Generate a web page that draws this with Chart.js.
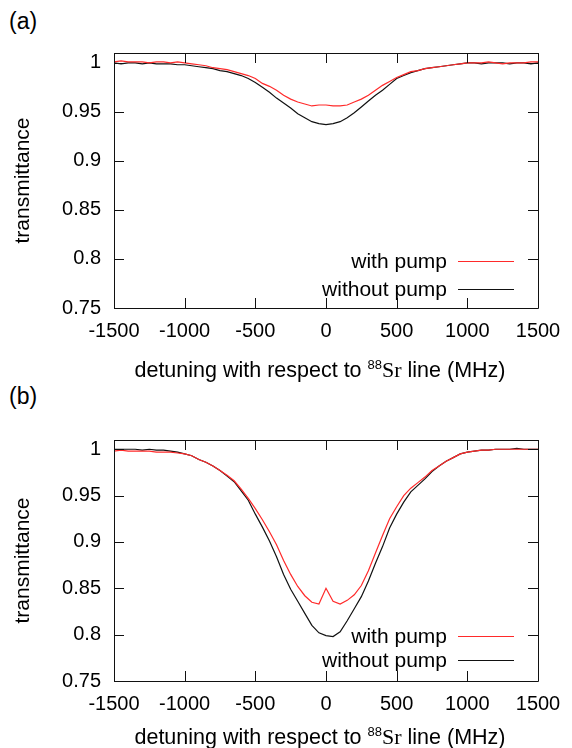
<!DOCTYPE html>
<html>
<head>
<meta charset="utf-8">
<script src="https://cdn.jsdelivr.net/npm/chart.js@4.4.0/dist/chart.umd.min.js"></script>
<style>
  body { margin: 0; background: #fff; font-family: "Liberation Sans", Arial, sans-serif; color: #000; }
  #page { position: relative; width: 572px; height: 748px; overflow: hidden; }
  .panel { position: absolute; left: 0; width: 572px; height: 374px; }
  .tag { position: absolute; left: 9px; font-size: 23px; line-height: 24px; }
  .xtitle { position: absolute; left: 0; width: 640px; text-align: center; font-size: 21.5px; line-height: 24px; white-space: nowrap; }
  .xtitle sup { font-size: 13px; vertical-align: 8px; line-height: 0; }
  .sr { font-family: "Liberation Serif", "DejaVu Serif", serif; font-size: 22px; }
</style>
</head>
<body>
<div id="page">
  <div class="tag" style="top:9px">(a)</div>
  <div class="panel" style="top:0"><canvas id="chart-a"></canvas></div>
  <div class="xtitle" style="top:358px">detuning with respect to <sup>88</sup><span class="sr">Sr</span> line (MHz)</div>

  <div class="tag" style="top:384px">(b)</div>
  <div class="panel" style="top:374px"><canvas id="chart-b"></canvas></div>
  <div class="xtitle" style="top:725px">detuning with respect to <sup>88</sup><span class="sr">Sr</span> line (MHz)</div>
</div>

<script>
// detuning grid (MHz), one point every 50 MHz
const detuning = [
  -1500, -1450, -1400, -1350, -1300, -1250, -1200, -1150, -1100, -1050,
  -1000, -950, -900, -850, -800, -750, -700, -650, -600, -550,
  -500, -450, -400, -350, -300, -250, -200, -150, -100, -50,
  0, 50, 100, 150, 200, 250, 300, 350, 400, 450,
  500, 550, 600, 650, 700, 750, 800, 850, 900, 950,
  1000, 1050, 1100, 1150, 1200, 1250, 1300, 1350, 1400, 1450, 1500
];

const xTicks = [-1500, -1000, -500, 0, 500, 1000, 1500];
const yTicks = [0.75, 0.8, 0.85, 0.9, 0.95, 1];
const seriesNames = ['with pump', 'without pump'];

// panel (a)
const pumpA = [
  1.001, 1.002, 1.001, 1.001, 1.001, 1.000, 1.001, 1.001, 1.000, 1.001,
  1.000, 0.999, 0.998, 0.997, 0.995, 0.994, 0.993, 0.991, 0.989, 0.987,
  0.984, 0.979, 0.976, 0.972, 0.967, 0.963, 0.960, 0.958, 0.956, 0.957,
  0.957, 0.956, 0.956, 0.957, 0.960, 0.963, 0.967, 0.972, 0.977, 0.981,
  0.985, 0.988, 0.991, 0.992, 0.994, 0.995, 0.996, 0.997, 0.998, 0.999,
  1.000, 1.000, 1.000, 1.001, 1.000, 0.999, 1.000, 1.000, 1.000, 1.001, 1.001
];
const noPumpA = [
  1.000, 0.999, 1.000, 1.000, 0.999, 1.000, 0.999, 0.999, 0.999, 0.998,
  0.998, 0.997, 0.996, 0.995, 0.994, 0.992, 0.991, 0.989, 0.987, 0.984,
  0.980, 0.975, 0.970, 0.964, 0.959, 0.954, 0.948, 0.944, 0.940, 0.938,
  0.937, 0.938, 0.940, 0.944, 0.949, 0.955, 0.961, 0.967, 0.972, 0.978,
  0.984, 0.987, 0.990, 0.992, 0.994, 0.995, 0.996, 0.997, 0.998, 0.999,
  1.000, 1.000, 0.999, 1.000, 1.000, 1.000, 0.999, 1.000, 1.000, 0.999, 1.000
];

// panel (b)
const pumpB = [
  0.998, 0.999, 0.998, 0.998, 0.998, 0.998, 0.997, 0.997, 0.997, 0.996,
  0.995, 0.993, 0.989, 0.986, 0.982, 0.977, 0.972, 0.966, 0.957, 0.947,
  0.936, 0.924, 0.911, 0.897, 0.880, 0.865, 0.852, 0.842, 0.835, 0.833,
  0.850, 0.836, 0.833, 0.837, 0.843, 0.853, 0.869, 0.888, 0.907, 0.925,
  0.938, 0.950, 0.958, 0.964, 0.970, 0.977, 0.982, 0.987, 0.991, 0.995,
  0.997, 0.998, 0.999, 0.999, 1.000, 1.000, 1.000, 1.000, 1.000, 1.000, 1.000
];
const noPumpB = [
  1.000, 1.000, 1.000, 1.000, 0.999, 1.000, 0.999, 0.999, 0.998, 0.997,
  0.995, 0.993, 0.989, 0.986, 0.982, 0.977, 0.971, 0.965, 0.955, 0.945,
  0.930, 0.916, 0.901, 0.884, 0.865, 0.849, 0.836, 0.823, 0.810, 0.802,
  0.799, 0.798, 0.803, 0.815, 0.828, 0.841, 0.858, 0.877, 0.895, 0.915,
  0.930, 0.943, 0.954, 0.961, 0.968, 0.976, 0.982, 0.987, 0.991, 0.995,
  0.997, 0.998, 0.999, 0.999, 1.000, 1.000, 1.000, 1.001, 1.000, 1.000, 1.000
];

const FONT = '"Liberation Sans", Arial, sans-serif';

// gnuplot-like frame with inward ticks on all four sides
const frameTicks = {
  id: 'frameTicks',
  afterDatasetsDraw(chart) {
    const { ctx, chartArea: a, scales: { x, y } } = chart;
    ctx.save();
    ctx.strokeStyle = '#111';
    ctx.lineWidth = 1;
    ctx.beginPath();
    ctx.rect(a.left + 0.5, a.top + 0.5, a.right - a.left, a.bottom - a.top);
    x.ticks.forEach(t => {
      const px = Math.round(x.getPixelForValue(t.value)) + 0.5;
      ctx.moveTo(px, a.bottom); ctx.lineTo(px, a.bottom - 10);
      ctx.moveTo(px, a.top); ctx.lineTo(px, a.top + 10);
    });
    y.ticks.forEach(t => {
      const py = Math.round(y.getPixelForValue(t.value)) + 0.5;
      ctx.moveTo(a.left, py); ctx.lineTo(a.left + 10, py);
      ctx.moveTo(a.right, py); ctx.lineTo(a.right - 10, py);
    });
    ctx.stroke();
    ctx.restore();
  }
};

// key in the lower right corner: label on the left, sample line on the right
const pairLegend = {
  id: 'pairLegend',
  afterDatasetsDraw(chart, args, opts) {
    const { ctx, chartArea: a } = chart;
    ctx.save();
    ctx.font = '21px ' + FONT;
    ctx.textAlign = 'right';
    ctx.textBaseline = 'middle';
    chart.data.datasets.forEach((ds, i) => {
      const yy = Math.round(a.bottom - opts.rows[i]) + 0.5;
      ctx.fillStyle = '#000';
      ctx.fillText(ds.label, a.right - 91, yy + 1);
      ctx.strokeStyle = ds.borderColor;
      ctx.lineWidth = 1.2;
      ctx.beginPath();
      ctx.moveTo(a.right - 80, yy);
      ctx.lineTo(a.right - 24, yy);
      ctx.stroke();
    });
    ctx.restore();
  }
};

function makePanel(id, pump, noPump, padTop, xHeight, rows) {
  const toPoints = vals => detuning.map((d, i) => ({ x: d, y: vals[i] }));
  return new Chart(document.getElementById(id), {
    type: 'line',
    data: {
      datasets: [
        { label: seriesNames[0], data: toPoints(pump), borderColor: '#ff2a2a', borderWidth: 1.2, pointRadius: 0, tension: 0 },
        { label: seriesNames[1], data: toPoints(noPump), borderColor: '#111', borderWidth: 1.2, pointRadius: 0, tension: 0 }
      ]
    },
    options: {
      responsive: true,
      maintainAspectRatio: false,
      animation: false,
      events: [],
      layout: { padding: { left: 0, right: 34, top: padTop, bottom: 0 } },
      plugins: {
        legend: { display: false },
        tooltip: { enabled: false },
        pairLegend: { rows }
      },
      scales: {
        x: {
          type: 'linear',
          min: -1500,
          max: 1500,
          grid: { display: false, drawTicks: false },
          border: { display: false },
          afterBuildTicks: s => { s.ticks = xTicks.map(v => ({ value: v })); },
          afterFit: s => { s.height = xHeight; },
          ticks: {
            padding: 11, color: '#000', font: { family: FONT, size: 20 }, maxRotation: 0, autoSkip: false,
            callback: v => String(v)
          }
        },
        y: {
          min: 0.75,
          max: 1.01,
          grid: { display: false, drawTicks: false },
          border: { display: false },
          afterBuildTicks: s => { s.ticks = yTicks.map(v => ({ value: v })); },
          afterFit: s => { s.width = 114; },
          ticks: {
            padding: 13, color: '#000', font: { family: FONT, size: 20 },
            callback: v => String(+v.toFixed(2))
          },
          title: {
            display: true,
            text: 'transmittance',
            color: '#000',
            font: { family: FONT, size: 21 },
            padding: { top: 11, bottom: 0 }
          }
        }
      }
    },
    plugins: [frameTicks, pairLegend]
  });
}

makePanel('chart-a', pumpA, noPumpA, 53, 66, [46.6, 19]);
makePanel('chart-b', pumpB, noPumpB, 66, 67, [45.1, 21.5]);
</script>
</body>
</html>
